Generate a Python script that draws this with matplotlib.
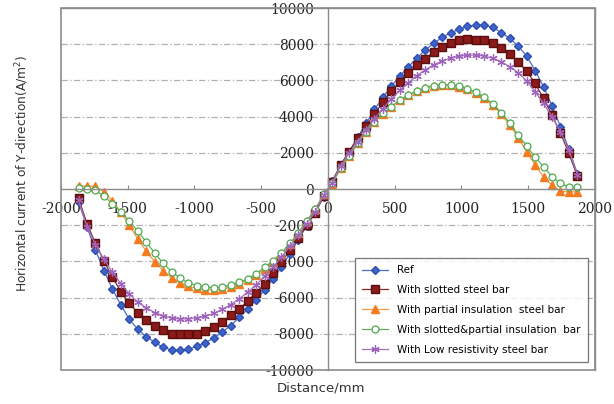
import numpy as np
import matplotlib
matplotlib.use("Agg")
import matplotlib.pyplot as plt
from matplotlib.patches import Rectangle

# x positions (mm): centres of 60 cells spanning -1900..1900
x_right = [31.7, 95.0, 158.3, 221.7, 285.0, 348.3, 411.7, 475.0, 538.3, 601.7,
           665.0, 728.3, 791.7, 855.0, 918.3, 981.7, 1045.0, 1108.3, 1171.7, 1235.0,
           1298.3, 1361.7, 1425.0, 1488.3, 1551.7, 1615.0, 1678.3, 1741.7, 1805.0, 1868.3]
x_left = [-v for v in x_right[::-1]]
distance = x_left + x_right

ref = ([-700, -2100, -3380, -4500, -5520, -6400, -7200, -7740, -8160, -8460,
        -8750, -8880, -8900, -8850, -8680, -8480, -8230, -7900, -7540, -7090,
        -6640, -6120, -5580, -4960, -4320, -3560, -2800, -2020, -1270, -420] +
       [450, 1300, 2060, 2850, 3630, 4400, 5060, 5690, 6240, 6760,
        7220, 7680, 8050, 8380, 8640, 8820, 9000, 9060, 9060, 8930,
        8640, 8330, 7900, 7350, 6550, 5650, 4600, 3450, 2200, 850])

slotted = ([-500, -1910, -3000, -3970, -4860, -5660, -6320, -6820, -7240, -7540,
            -7810, -7980, -8010, -8020, -7980, -7840, -7620, -7340, -6980, -6630,
            -6200, -5720, -5240, -4650, -4040, -3390, -2720, -2000, -1310, -390] +
           [400, 1350, 2060, 2800, 3490, 4160, 4790, 5400, 5900, 6390,
            6830, 7200, 7570, 7860, 8080, 8230, 8270, 8260, 8230, 8050,
            7770, 7460, 7030, 6520, 5840, 5010, 4090, 3090, 1970, 700])

partial = ([170, 170, 150, -150, -650, -1290, -2000, -2750, -3430, -4010,
            -4500, -4890, -5180, -5380, -5490, -5570, -5580, -5540, -5410, -5240,
            -5025, -4750, -4395, -4025, -3590, -3055, -2445, -1755, -1125, -290] +
           [300, 1160, 1810, 2520, 3150, 3700, 4150, 4530, 4900, 5180,
            5400, 5580, 5710, 5750, 5740, 5660, 5520, 5320, 5040, 4640,
            4140, 3540, 2830, 2060, 1330, 680, 200, -120, -150, -150])

slotted_partial = ([40, 0, -60, -400, -800, -1250, -1750, -2330, -2920, -3540,
                    -4100, -4560, -4920, -5190, -5330, -5420, -5450, -5420, -5310, -5160,
                    -4950, -4680, -4330, -3950, -3530, -3000, -2420, -1760, -1120, -290] +
                   [320, 1180, 1850, 2550, 3180, 3730, 4180, 4560, 4920, 5200,
                    5420, 5600, 5720, 5760, 5750, 5680, 5540, 5350, 5080, 4700,
                    4230, 3640, 2980, 2380, 1750, 1230, 680, 310, 130, 90])

low_res = ([-600, -2090, -3070, -3880, -4590, -5220, -5800, -6240, -6560, -6820,
            -7000, -7130, -7180, -7170, -7120, -7020, -6870, -6650, -6380, -6070,
            -5700, -5290, -4830, -4320, -3760, -3150, -2530, -1910, -1250, -340] +
           [350, 1290, 1970, 2610, 3250, 3880, 4450, 4980, 5450, 5880,
            6260, 6580, 6860, 7080, 7240, 7340, 7390, 7400, 7350, 7220,
            7030, 6760, 6430, 5980, 5380, 4730, 4000, 3170, 2150, 800])

labels = ["Ref", "With slotted steel bar", "With partial insulation  steel bar",
          "With slotted&partial insulation  bar", "With Low resistivity steel bar"]
x_ticks = [-2000, -1500, -1000, -500, 0, 500, 1000, 1500, 2000]
y_ticks = [-10000, -8000, -6000, -4000, -2000, 0, 2000, 4000, 6000, 8000, 10000]

fig = plt.figure(figsize=(6.14, 4.04), dpi=100)
ax = fig.add_axes([0.0993, 0.084, 0.8697, 0.896])

# grid lines
for yv in y_ticks:
    if yv != 0 and abs(yv) != 10000:
        ax.axhline(yv, color="#B0B0B0", lw=0.9, ls=(0, (5, 2, 1, 2)), zorder=0)

styles = [
    dict(color="#4A6CC8", marker="D", ms=4.5, mfc="#3E63C9", mec="#2F4FB0", lw=0.9),
    dict(color="#8E2A2A", marker="s", ms=5.5, mfc="#8B1A1A", mec="#5A0E0E", lw=0.9),
    dict(color="#F39A4E", marker="^", ms=6, mfc="#F47B20", mec="#F47B20", lw=0.9),
    dict(color="#5DAE5D", marker="o", ms=5, mfc="white", mec="#4FA84F", mew=0.9, lw=0.9),
    dict(color="#A070B8", marker=(6, 2, 0), ms=6, mfc="#9B59B6", mec="#9F63BB", mew=0.9, lw=0.9),
]
series = [ref, slotted, partial, slotted_partial, low_res]
for s, lab, st in zip(series, labels, styles):
    ax.plot(distance, s, label=lab, **st)

ax.set_xlim(-2000, 2000)
ax.set_ylim(-10000, 10000)

ax.spines["left"].set_position("zero")
ax.spines["bottom"].set_position("zero")
for sp in ax.spines.values():
    sp.set_color("#8C8C8C")
    sp.set_linewidth(1.0)
ax.add_patch(Rectangle((0, 0), 1, 1, transform=ax.transAxes, fill=False,
                       ec="#8C8C8C", lw=1.2, clip_on=False, zorder=5))

ax.set_xticks(x_ticks)
ax.set_yticks(y_ticks)
ax.set_xticklabels([str(v) for v in x_ticks])
ax.set_yticklabels([str(v) for v in y_ticks])
ax.tick_params(axis="x", direction="in", length=3, pad=9, color="#8C8C8C",
               labelsize=10)
ax.tick_params(axis="y", direction="in", length=0, pad=10, labelsize=10)
for t in ax.get_xticklabels() + ax.get_yticklabels():
    t.set_family("DejaVu Serif")
    t.set_color("#222222")

fig.text(0.036, 0.57, "Horizontal current of Y-direction(A/m$^2$)", rotation=90,
         ha="center", va="center", fontsize=8.8, color="#333333")
fig.text(0.522, 0.04, "Distance/mm", ha="center", va="center", fontsize=9.5,
         color="#333333")

leg = ax.legend(loc="lower right", bbox_to_anchor=(0.987, 0.022), fontsize=7.5,
                frameon=True, fancybox=False, edgecolor="#555555",
                borderpad=0.7, labelspacing=0.95, handlelength=2.5,
                handletextpad=0.9, borderaxespad=0)
leg.get_frame().set_linewidth(0.9)
leg.set_zorder(10)

fig.savefig("out.png", dpi=100)
